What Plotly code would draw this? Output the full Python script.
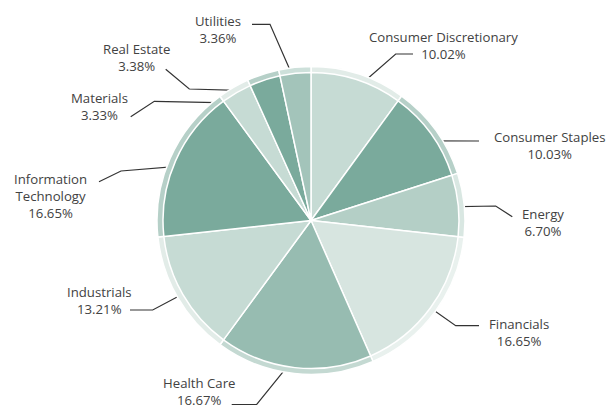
import math
import plotly.graph_objects as go

# ---- data ----
sectors = ["Consumer Discretionary", "Consumer Staples", "Energy", "Financials",
           "Health Care", "Industrials", "Information Technology", "Materials",
           "Real Estate", "Utilities"]
weights = [10.02, 10.03, 6.70, 16.65, 16.67, 13.21, 16.65, 3.33, 3.38, 3.36]
label_names = ["Consumer Discretionary", "Consumer Staples", "Energy", "Financials",
               "Health Care", "Industrials", "Information<br>Technology", "Materials",
               "Real Estate", "Utilities"]

# ---- styles ----
inner_colors = ["#c6dbd4", "#7aaa9c", "#b4cfc6", "#d7e5e0", "#97bcb1",
                "#c6dbd4", "#7aaa9c", "#c6dbd4", "#7aaa9c", "#a3c4ba"]
ring_colors = ["#e2ece8", "#b6d0c8", "#d9e7e2", "#e9f1ee", "#c4d9d2",
               "#e2ece8", "#b6d0c8", "#e2ece8", "#b6d0c8", "#cde0da"]

W, H = 608, 410
CX, CY = 311, 220.5
R_OUT, R_IN = 154, 148
DOT_R = 136

# label layout: (text center x, text block center y, elbow point, line end point)
label_layout = [
    (443, 45, (395.7, 54), (413, 54)),
    (549, 145, (479, 141), (479, 141)),
    (543, 222, (495.7, 206), (512.3, 216.7)),
    (519, 332, (455.7, 325.7), (479, 325.7)),
    (199, 391, (256.7, 404.5), (231.7, 404.5)),
    (99, 300.5, (152.7, 310), (130, 310)),
    (50, 195.5, (121, 171), (99, 181.7)),
    (99, 106.5, (154.3, 101.3), (130.7, 116.7)),
    (136, 57.5, (189.3, 89), (165.7, 69.3)),
    (218, 29, (270, 24.3), (252, 24.3)),
]


def dom(r):
    return dict(x=[(CX - r) / W, (CX + r) / W], y=[1 - (CY + r) / H, 1 - (CY - r) / H])


fig = go.Figure()
fig.add_trace(go.Pie(labels=sectors, values=weights, sort=False, direction="clockwise",
                     rotation=0, domain=dom(R_OUT), textinfo="none", hoverinfo="label+value",
                     marker=dict(colors=ring_colors, line=dict(color="white", width=1.5)),
                     showlegend=False))
fig.add_trace(go.Pie(labels=sectors, values=weights, sort=False, direction="clockwise",
                     rotation=0, domain=dom(R_IN), textinfo="none", hoverinfo="label+value",
                     marker=dict(colors=inner_colors, line=dict(color="white", width=1.5)),
                     showlegend=False))

total = sum(weights)
cum = 0.0
dot_x, dot_y = [], []
annotations = []
for i, w in enumerate(weights):
    mid = (cum + w / 2) / total * 2 * math.pi
    cum += w
    dx = CX + DOT_R * math.sin(mid)
    dy = CY - DOT_R * math.cos(mid)
    dot_x.append(dx)
    dot_y.append(dy)
    tx, ty, elbow, end = label_layout[i]
    fig.add_trace(go.Scatter(x=[dx, elbow[0], end[0]], y=[dy, elbow[1], end[1]],
                             mode="lines", line=dict(color="#333333", width=1.2),
                             hoverinfo="skip", showlegend=False))
    annotations.append(dict(x=tx, y=ty, xref="x", yref="y",
                            text=f"{label_names[i]}<br>{w:.2f}%",
                            showarrow=False, xanchor="center", yanchor="middle",
                            borderpad=0,
                            font=dict(family="Open Sans", size=13.2, color="#424242")))

fig.add_trace(go.Scatter(x=dot_x, y=dot_y, mode="markers",
                         marker=dict(color="#333333", size=7),
                         hoverinfo="skip", showlegend=False))

fig.update_layout(
    width=W, height=H,
    margin=dict(l=0, r=0, t=0, b=0),
    paper_bgcolor="white", plot_bgcolor="rgba(0,0,0,0)",
    xaxis=dict(range=[0, W], visible=False, fixedrange=True),
    yaxis=dict(range=[H, 0], visible=False, fixedrange=True),
    annotations=annotations,
)

fig.write_html("out.html", config={"displayModeBar": False})

# remove the browser's default page margin so the figure sits at the window origin
with open("out.html", "r", encoding="utf-8") as f:
    html = f.read()
html = html.replace("<body>", '<body style="margin:0;padding:0;overflow:hidden">', 1)
with open("out.html", "w", encoding="utf-8") as f:
    f.write(html)
